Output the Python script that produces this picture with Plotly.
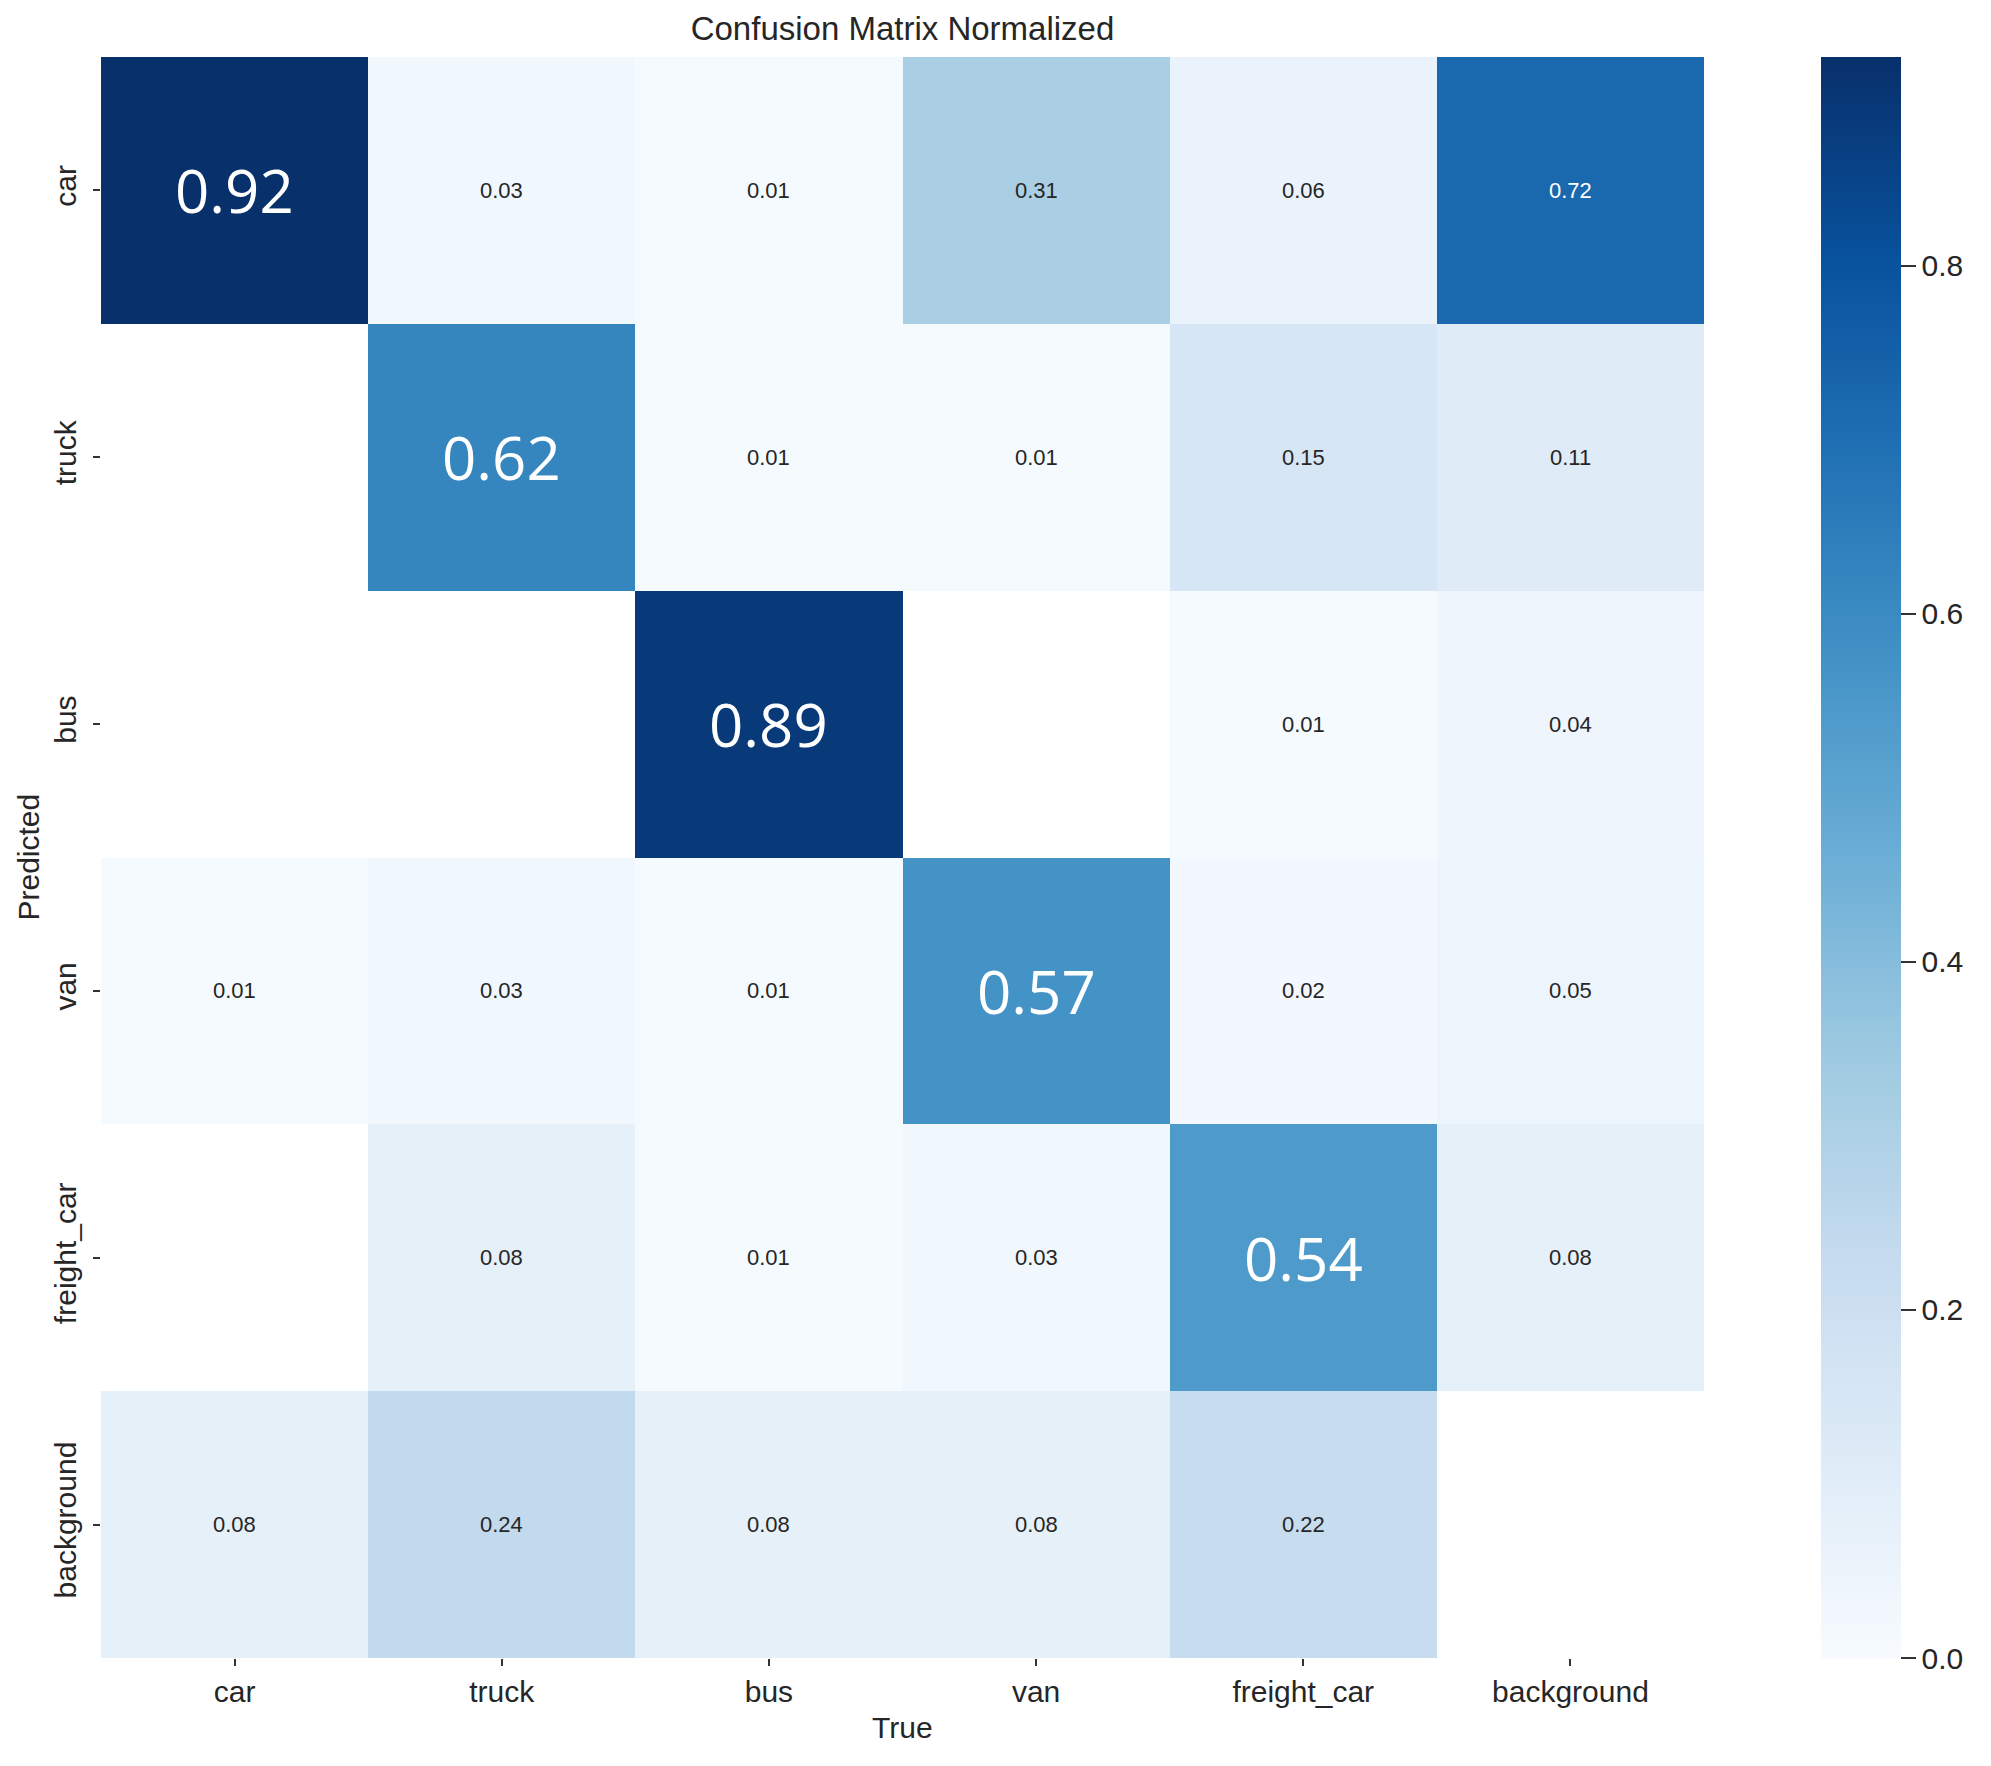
import plotly.graph_objects as go

true_labels = ["car", "truck", "bus", "van", "freight_car", "background"]
pred_labels = ["car", "truck", "bus", "van", "freight_car", "background"]

# rows = Predicted, cols = True (None = blank cell)
row_car = [0.92, 0.03, 0.01, 0.31, 0.06, 0.72]
row_truck = [None, 0.62, 0.01, 0.01, 0.15, 0.11]
row_bus = [None, None, 0.89, None, 0.01, 0.04]
row_van = [0.01, 0.03, 0.01, 0.57, 0.02, 0.05]
row_freight = [None, 0.08, 0.01, 0.03, 0.54, 0.08]
row_background = [0.08, 0.24, 0.08, 0.08, 0.22, None]

z = [row_car, row_truck, row_bus, row_van, row_freight, row_background]
colorbar_ticks = [0.0, 0.2, 0.4, 0.6, 0.8]

# page has an 8px body margin; figure sized to fit the window exactly
OFF = 8
W, H = 1991 - 2 * OFF, 1766 - 2 * OFF
PL, PR, PT, PB = 101 - OFF, 1704 - OFF, 57 - OFF, 1658 - OFF
L, R, T, B = PL, W - PR, PT, H - PB
plot_w = PR - PL

zmax = max(v for row in z for v in row if v is not None)
FONT = "Liberation Sans, Arial"
TXT = "#262626"

fig = go.Figure(go.Heatmap(
    z=z, x=true_labels, y=pred_labels,
    colorscale="Blues", zmin=0, zmax=zmax,
    hoverongaps=False,
    colorbar=dict(
        x=(1821 - OFF - PL) / plot_w, xanchor="left", xref="paper", xpad=0, ypad=0,
        thickness=80, thicknessmode="pixels",
        len=1, lenmode="fraction", y=0.5, yanchor="middle",
        outlinewidth=0,
        tickvals=colorbar_ticks, ticktext=[f"{v:.1f}" for v in colorbar_ticks],
        ticks="outside", ticklen=15, tickwidth=2, tickcolor="#333333",
        tickfont=dict(family=FONT, size=30, color=TXT),
    ),
))

annotations = []
for i, p in enumerate(pred_labels):
    for j, t in enumerate(true_labels):
        v = z[i][j]
        if v is None:
            continue
        if i == j:
            font = dict(family="Open Sans, DejaVu Sans", size=60, color="white")
        else:
            col = "white" if v > 0.6 else TXT
            font = dict(family=FONT, size=22, color=col)
        annotations.append(dict(x=t, y=p, xref="x", yref="y", text=f"{v:.2f}",
                                showarrow=False, font=font))

# axis titles
annotations.append(dict(text="True", x=0.5, y=0, xref="paper", yref="paper",
                        xanchor="center", yanchor="middle", yshift=-(1727 - 1658),
                        showarrow=False, font=dict(family=FONT, size=30, color=TXT)))
annotations.append(dict(text="Predicted", x=0, y=0.5, xref="paper", yref="paper",
                        xanchor="center", yanchor="middle", xshift=-(101 - 28),
                        textangle=-90, showarrow=False,
                        font=dict(family=FONT, size=30, color=TXT)))

fig.update_layout(
    width=W, height=H,
    margin=dict(l=L, r=R, t=T, b=B, autoexpand=False),
    paper_bgcolor="white", plot_bgcolor="white",
    title=dict(text="Confusion Matrix Normalized", x=((PL + PR) / 2) / W, xanchor="center",
               xref="container", y=1 - (28 - OFF) / H, yanchor="middle", yref="container",
               font=dict(family=FONT, size=33, color=TXT)),
    annotations=annotations,
    font=dict(family=FONT, color=TXT),
)

fig.update_xaxes(
    type="category", range=[-0.5, 5.5], showgrid=False, zeroline=False, showline=False,
    ticks="outside", ticklen=7, tickwidth=1.5, tickcolor="#333333",
    tickfont=dict(size=30, family=FONT, color=TXT),
)
fig.update_yaxes(
    type="category", range=[5.5, -0.5], showgrid=False, zeroline=False, showline=False,
    ticks="outside", ticklen=7, tickwidth=1.5, tickcolor="#333333", tickangle=-90,
    ticklabelstandoff=5,
    tickfont=dict(size=30, family=FONT, color=TXT),
)

fig.write_html("out.html")
